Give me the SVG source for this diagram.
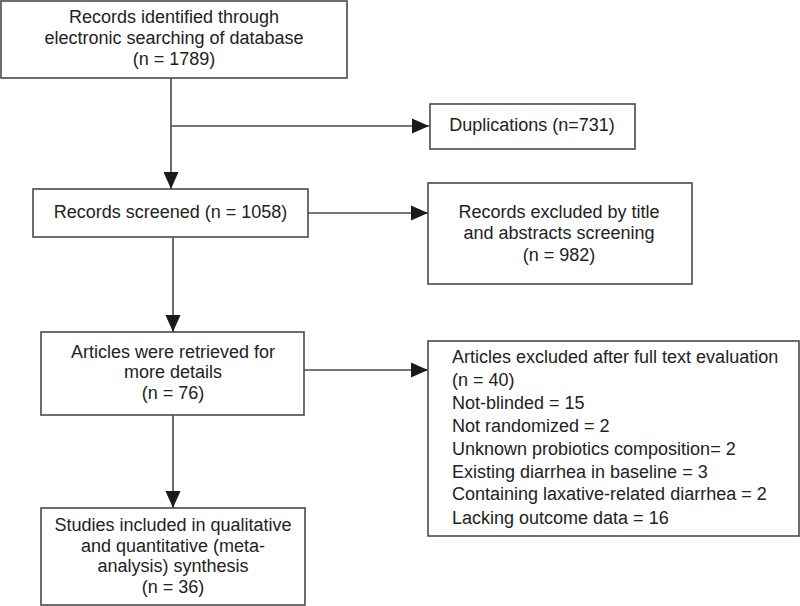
<svg xmlns="http://www.w3.org/2000/svg" width="800" height="606" viewBox="0 0 800 606">
<defs>
<style>
.box{fill:#fff;stroke:#4a4a4a;stroke-width:1.6}
.t{font-family:"Liberation Sans",Arial,sans-serif;font-size:18px;fill:#222}
.c{text-anchor:middle}
.ln{stroke:#4a4a4a;stroke-width:1.6;fill:none}
</style>
<marker id="ah" markerUnits="userSpaceOnUse" markerWidth="18" markerHeight="18" viewBox="0 0 18 18" refX="17" refY="9" orient="auto">
<path d="M0,1.5 L17,9 L0,16.5 Z" fill="#1a1a1a"/>
</marker>
</defs>
<rect width="800" height="606" fill="#fff"/>
<g id="connectors">
<line class="ln" x1="171" y1="78" x2="171" y2="189" marker-end="url(#ah)"/>
<line class="ln" x1="171" y1="126" x2="429" y2="126" marker-end="url(#ah)"/>
<line class="ln" x1="308" y1="213" x2="428" y2="213" marker-end="url(#ah)"/>
<line class="ln" x1="173" y1="237" x2="173" y2="332" marker-end="url(#ah)"/>
<line class="ln" x1="304" y1="370" x2="428" y2="370" marker-end="url(#ah)"/>
<line class="ln" x1="173" y1="415" x2="173" y2="508" marker-end="url(#ah)"/>
</g>
<g id="identified">
<rect class="box" x="1" y="1" width="346" height="77"/>
<text class="t c" x="174" y="23">Records identified through</text>
<text class="t c" x="174" y="44">electronic searching of database</text>
<text class="t c" x="174" y="65">(n = 1789)</text>
</g>
<g id="duplications">
<rect class="box" x="430" y="104" width="205" height="45"/>
<text class="t c" x="532" y="131">Duplications (n=731)</text>
</g>
<g id="screened">
<rect class="box" x="33" y="189" width="275" height="48"/>
<text class="t c" x="170.5" y="218">Records screened (n = 1058)</text>
</g>
<g id="excluded-title">
<rect class="box" x="428" y="183" width="264" height="101"/>
<text class="t c" x="559" y="218">Records excluded by title</text>
<text class="t c" x="559" y="239">and abstracts screening</text>
<text class="t c" x="559" y="261">(n = 982)</text>
</g>
<g id="retrieved">
<rect class="box" x="41" y="332" width="263" height="83"/>
<text class="t c" x="173" y="358">Articles were retrieved for</text>
<text class="t c" x="173" y="378">more details</text>
<text class="t c" x="173" y="399">(n = 76)</text>
</g>
<g id="excluded-full">
<rect class="box" x="428" y="341" width="371" height="195"/>
<text class="t" x="452" y="363">Articles excluded after full text evaluation</text>
<text class="t" x="452" y="386">(n = 40)</text>
<text class="t" x="452" y="409">Not-blinded = 15</text>
<text class="t" x="452" y="432">Not randomized = 2</text>
<text class="t" x="452" y="455">Unknown probiotics composition= 2</text>
<text class="t" x="452" y="478">Existing diarrhea in baseline = 3</text>
<text class="t" x="452" y="500">Containing laxative-related diarrhea = 2</text>
<text class="t" x="452" y="524">Lacking outcome data = 16</text>
</g>
<g id="included">
<rect class="box" x="41" y="508" width="264" height="97"/>
<text class="t c" x="173" y="531">Studies included in qualitative</text>
<text class="t c" x="173" y="552">and quantitative (meta-</text>
<text class="t c" x="173" y="572">analysis) synthesis</text>
<text class="t c" x="173" y="593">(n = 36)</text>
</g>
</svg>
